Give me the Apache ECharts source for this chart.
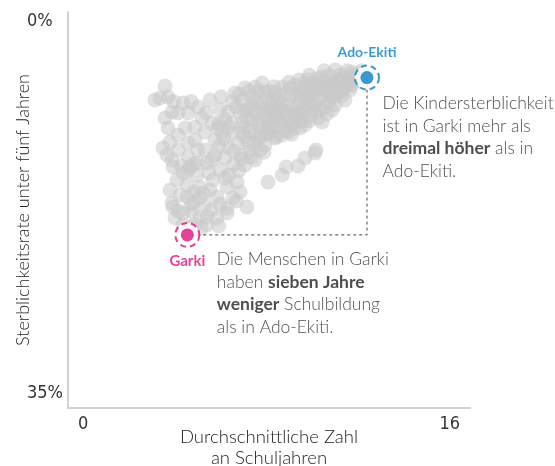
<!DOCTYPE html>
<html>
<head>
<meta charset="utf-8">
<script src="https://cdn.jsdelivr.net/npm/echarts@6/dist/echarts.min.js"></script>
<style>
  html, body { margin: 0; padding: 0; background: #fff; }
  #chart { width: 555px; height: 466px; }
</style>
</head>
<body>
<div id="chart"></div>
<script>
// Durchschnittliche Schuljahre (x) und Kindersterblichkeit in % (y), nigerianische Regionen
var cloud = [
  [3.86, 6.54], [3.66, 7.60], [3.98, 7.51], [3.46, 7.78], [4.58, 8.04], [5.17, 8.40],
  [4.14, 8.84], [3.86, 9.37], [3.98, 10.25], [4.38, 8.93], [4.78, 8.93], [5.33, 9.37],
  [5.05, 10.16], [4.66, 10.25], [4.38, 10.87], [4.06, 11.49], [4.78, 11.58], [5.73, 9.81],
  [6.25, 9.55], [6.65, 7.16], [7.04, 6.72], [7.44, 6.63], [7.72, 6.28], [6.53, 7.95],
  [6.93, 7.78], [7.32, 7.51], [7.04, 8.66], [7.44, 8.84], [6.53, 9.81], [6.93, 9.81],
  [7.32, 9.55], [6.13, 10.69], [6.53, 10.69], [6.93, 10.69], [5.85, 11.31], [6.37, 11.93],
  [6.77, 11.58], [7.16, 11.58], [5.45, 12.20], [5.73, 13.08], [4.38, 12.20], [4.14, 13.08],
  [4.78, 12.82], [5.17, 13.35], [5.65, 7.78], [6.05, 8.66], [5.05, 11.31], [5.45, 10.61],
  [5.97, 10.25], [3.78, 12.02], [3.94, 12.64], [4.2, 7.9], [4.9, 7.9], [5.5, 8.9],
  [6.1, 7.5], [6.0, 9.9],
  [4.26, 18.21], [4.58, 17.77], [4.14, 16.88], [4.06, 15.73], [4.34, 14.85], [4.18, 13.70],
  [4.86, 13.70], [5.53, 13.35], [6.05, 13.96], [6.57, 13.52], [6.73, 15.03], [6.33, 15.47],
  [5.93, 16.35], [6.57, 16.44], [7.12, 17.24], [6.33, 17.77], [5.93, 18.21], [5.53, 18.83],
  [5.25, 18.12], [4.98, 16.88], [4.74, 16.35], [5.25, 15.47], [5.77, 14.85], [5.13, 14.41],
  [4.58, 14.23], [4.18, 17.24], [5.53, 18.12], [6.33, 17.32], [4.74, 15.29], [4.46, 16.17],
  [5.01, 15.91], [5.65, 15.73], [5.45, 17.06], [4.94, 17.68], [4.58, 18.83], [5.05, 18.83],
  [6.05, 16.97], [6.85, 15.91], [6.25, 14.67], [5.25, 16.44], [4.78, 14.00], [5.85, 12.64],
  [6.25, 12.90], [5.17, 12.20], [6.8, 14.0], [6.4, 14.4], [5.6, 14.2], [5.0, 13.4],
  [4.5, 13.6], [5.4, 16.0], [4.9, 17.0], [5.7, 17.5], [6.7, 16.7], [4.4, 17.6],
  [4.9, 19.0], [5.3, 19.1], [6.0, 18.9],
  [6.85, 12.64], [7.24, 12.20], [7.04, 13.52], [7.44, 13.08], [7.64, 12.20], [7.56, 11.14],
  [7.84, 11.76], [7.76, 10.25], [7.24, 10.43], [8.04, 10.69], [8.24, 11.14], [7.96, 9.37],
  [7.72, 8.22], [8.12, 7.78], [7.84, 7.07], [8.24, 8.66], [8.44, 9.72], [8.64, 10.43],
  [8.52, 6.63], [8.84, 7.34], [8.76, 8.22], [9.03, 9.10], [8.92, 9.99], [8.76, 10.61],
  [9.03, 6.45], [9.23, 7.78], [9.43, 8.66], [9.43, 9.99], [9.23, 7.07], [9.55, 6.01],
  [9.71, 7.34], [9.83, 8.22], [9.95, 9.37], [10.11, 5.75], [10.11, 6.89], [10.23, 7.78],
  [10.11, 9.72], [10.43, 6.45], [10.51, 7.51], [10.51, 8.66], [10.63, 5.13], [10.75, 6.01],
  [10.83, 7.07], [11.02, 5.57], [11.14, 6.45], [11.30, 5.30], [11.42, 6.01], [11.54, 5.48],
  [11.02, 7.78], [8.36, 7.78], [8.64, 8.75], [9.15, 8.22], [9.63, 7.78], [9.95, 6.72],
  [10.35, 7.07], [10.75, 6.72], [9.63, 9.10], [9.15, 9.55], [8.44, 9.10], [8.04, 9.99],
  [7.44, 10.87], [7.56, 9.55], [7.96, 8.66], [8.24, 7.07], [8.84, 6.72], [9.35, 6.72],
  [9.71, 6.37], [10.23, 6.19], [10.91, 6.19], [11.22, 6.89], [10.63, 8.22], [10.03, 8.66],
  [9.23, 10.25], [7.24, 8.66], [6.85, 8.84], [6.37, 8.84],
  [7.6, 7.0], [7.9, 7.6], [8.1, 8.3], [8.3, 9.3], [8.0, 10.3], [7.7, 11.0],
  [8.5, 8.0], [8.7, 9.2], [8.9, 8.6], [9.1, 7.4], [9.3, 8.8], [9.5, 7.2],
  [9.6, 8.3], [9.8, 7.0], [10.0, 7.6], [10.2, 8.4], [10.4, 6.6], [10.6, 7.4],
  [10.8, 5.6], [11.0, 6.8], [11.2, 6.0], [11.4, 5.6], [11.6, 6.1], [11.7, 5.2],
  [9.9, 5.9], [10.4, 5.6], [9.4, 6.3], [8.6, 7.3], [8.0, 7.0], [7.5, 7.9],
  [7.8, 9.0], [8.2, 10.0], [8.5, 10.9], [9.0, 10.3], [9.6, 9.6], [10.3, 9.0],
  [6.2, 11.2], [6.6, 12.3], [7.0, 11.0], [7.3, 12.8],
  [8.2, 6.6], [8.8, 6.2], [9.2, 6.0], [9.6, 5.6], [10.2, 5.2], [8.4, 8.4],
  [8.8, 9.6], [9.2, 9.0], [9.4, 7.6], [9.8, 8.8], [10.0, 6.4], [10.4, 7.9],
  [10.6, 6.2], [10.9, 7.4], [11.1, 5.2], [11.3, 6.5], [7.3, 8.2], [7.1, 9.3],
  [7.6, 10.0], [7.4, 11.6], [7.9, 10.8], [8.3, 11.0], [6.7, 8.4], [6.4, 10.2],
  [6.0, 11.9], [6.9, 13.0], [9.3, 9.6], [8.6, 9.9], [8.1, 9.0], [7.7, 8.5],
  [7.2, 7.0], [6.8, 7.3], [7.0, 10.2], [7.8, 12.4], [8.9, 10.8],
  [7.96, 15.03], [8.52, 14.41], [8.68, 13.70], [9.15, 13.61], [9.43, 12.90], [9.83, 12.46],
  [9.87, 12.20]
];

var places = ['Ado-Ekiti', 'Garki'];
var placeYears = [11.9, 4.75];
var placeMortality = [5.8, 19.7];
var placeColors = ['#0a7fc4', '#e2127f'];

var xTickLabels = ['0', '16'];
var yTickLabels = ['0%', '35%'];

var adoNote = '{n|Die Kindersterblichkeit}\n{n|ist in Garki mehr als}\n{b|dreimal höher}{n| als in}\n{n|Ado-Ekiti.}';
var garkiNote = '{n|Die Menschen in Garki}\n{n|haben }{b|sieben Jahre}\n{b|weniger}{n| Schulbildung}\n{n|als in Ado-Ekiti.}';

var textFont = 'Lato, "Open Sans", sans-serif';
var tickFont = '"Liberation Sans Narrow", "DejaVu Sans Condensed", Roboto, sans-serif';

var noteRich = {
  n: { fontFamily: textFont, fontWeight: 300, fontSize: 17.5, color: '#222', lineHeight: 22.5 },
  b: { fontFamily: textFont, fontWeight: 700, fontSize: 17.5, color: '#222', lineHeight: 22.5 }
};

var chart = echarts.init(document.getElementById('chart'));

var option = {
  animation: false,
  grid: { left: 68, right: 85, top: 12, bottom: 58, outerBoundsMode: 'none', containLabel: false },
  xAxis: {
    type: 'value',
    position: 'bottom',
    min: 0,
    max: 16,
    interval: 16,
    name: 'Durchschnittliche Zahl\nan Schuljahren',
    nameLocation: 'middle',
    nameGap: 19,
    nameMoveOverlap: false,
    nameTextStyle: { fontFamily: textFont, fontWeight: 300, fontSize: 18.5, color: '#222', lineHeight: 21 },
    axisLine: { onZero: false, lineStyle: { color: '#d2d2d2', width: 2 } },
    axisTick: { show: false },
    splitLine: { show: false },
    axisLabel: {
      fontFamily: tickFont,
      fontSize: 18,
      color: '#333',
      margin: 7,
      padding: [0, 10, 0, 10],
      alignMinLabel: 'left',
      alignMaxLabel: 'right',
      formatter: function (v, i) { return xTickLabels[i]; }
    }
  },
  yAxis: {
    type: 'value',
    min: 0,
    max: 35,
    interval: 35,
    inverse: true,
    name: 'Sterblichkeitsrate unter fünf Jahren',
    nameLocation: 'middle',
    nameGap: 36,
    nameMoveOverlap: false,
    nameTextStyle: { fontFamily: textFont, fontWeight: 300, fontSize: 18, color: '#222' },
    axisLine: { show: true, onZero: false, lineStyle: { color: '#d2d2d2', width: 2 } },
    axisTick: { show: false },
    splitLine: { show: false },
    axisLabel: {
      fontFamily: tickFont,
      fontSize: 18,
      color: '#333',
      align: 'left',
      margin: 41,
      padding: [0, 0, 6, 0],
      verticalAlignMinLabel: 'top',
      verticalAlignMaxLabel: 'bottom',
      formatter: function (v, i) { return yTickLabels[i]; }
    }
  },
  series: [
    {
      type: 'scatter',
      data: cloud,
      symbolSize: 15,
      itemStyle: { color: '#c8c8c8', opacity: 0.55 },
      z: 1
    },
    {
      type: 'line',
      data: [
        [placeYears[0], placeMortality[0]],
        [placeYears[0], placeMortality[1]],
        [placeYears[1], placeMortality[1]]
      ],
      showSymbol: false,
      symbol: 'none',
      lineStyle: { color: '#444', width: 1, type: [3, 3] },
      z: 2
    },
    {
      type: 'scatter',
      symbolSize: 24,
      z: 3,
      data: places.map(function (p, i) {
        return {
          name: p,
          value: [placeYears[i], placeMortality[i]],
          itemStyle: { color: '#fff', borderColor: placeColors[i], borderWidth: 2, borderType: [6, 4] },
          label: {
            show: true,
            formatter: p,
            position: i === 0 ? 'top' : 'bottom',
            distance: i === 0 ? 5 : 6,
            fontFamily: textFont,
            fontWeight: 700,
            fontSize: i === 0 ? 14 : 15,
            color: placeColors[i]
          }
        };
      })
    },
    {
      type: 'scatter',
      symbolSize: 13,
      z: 4,
      data: places.map(function (p, i) {
        return {
          name: p,
          value: [placeYears[i], placeMortality[i]],
          itemStyle: { color: placeColors[i] },
          label: {
            show: true,
            formatter: i === 0 ? adoNote : garkiNote,
            position: i === 0 ? [22, 21] : [36, 20],
            align: 'left',
            verticalAlign: 'top',
            rich: noteRich
          }
        };
      })
    }
  ]
};

chart.setOption(option);
</script>
</body>
</html>
